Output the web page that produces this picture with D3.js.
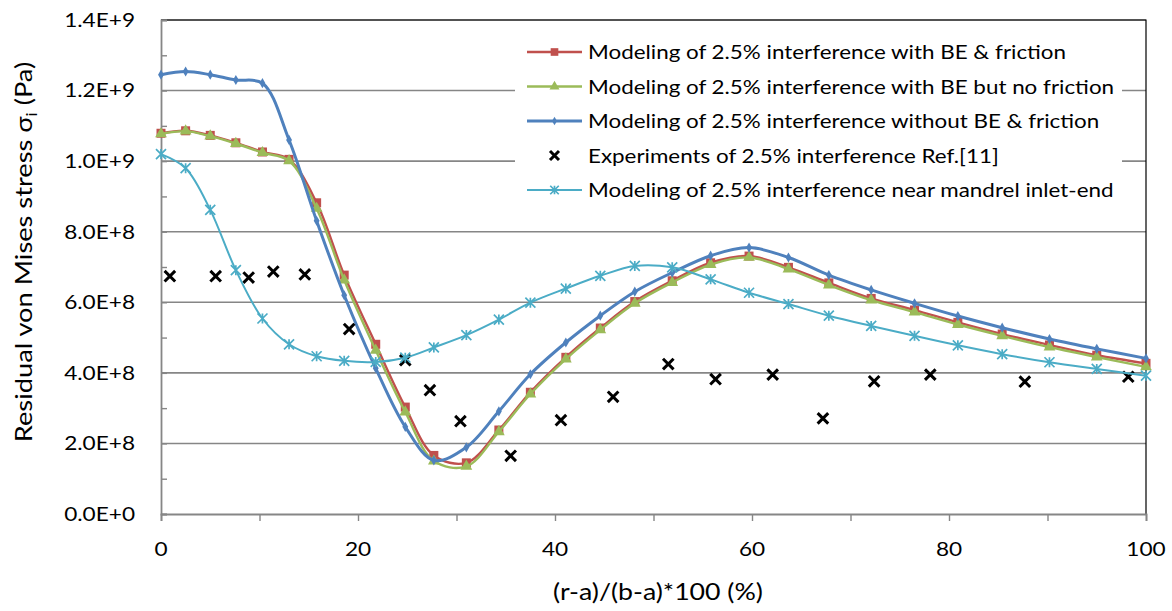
<!DOCTYPE html>
<html>
<head>
<meta charset="utf-8">
<title>Residual von Mises stress</title>
<script src="https://d3js.org/d3.v7.min.js"></script>
<style>
  body { margin: 0; background: #fff; }
  text { font-family: Lato, "Open Sans", sans-serif; fill: #000; }
</style>
</head>
<body>
<div id="vis"></div>
<script>
// positions along the radius, (r-a)/(b-a)*100
const xModel = [0, 2.5, 5.0, 7.6, 10.3, 13.0, 15.8, 18.6, 21.8, 24.8, 27.7, 31.0, 34.3, 37.5, 41.1,
                44.6, 48.1, 51.9, 55.8, 59.7, 63.7, 67.8, 72.1, 76.5, 80.9, 85.4, 90.2, 95.0, 100];

// stresses in units of 1E+9 Pa
const beFriction = [1.079, 1.086, 1.073, 1.052, 1.026, 1.005, 0.882, 0.677, 0.481, 0.303, 0.166, 0.145, 0.238, 0.345, 0.444,
                    0.527, 0.602, 0.661, 0.712, 0.731, 0.699, 0.655, 0.611, 0.578, 0.543, 0.510, 0.479, 0.450, 0.427];
const beNoFriction = [1.077, 1.085, 1.071, 1.050, 1.024, 1.001, 0.866, 0.663, 0.464, 0.289, 0.150, 0.135, 0.233, 0.340, 0.439,
                      0.522, 0.597, 0.656, 0.707, 0.727, 0.694, 0.649, 0.606, 0.572, 0.537, 0.505, 0.473, 0.445, 0.417];
const noBeFriction = [1.245, 1.254, 1.245, 1.230, 1.221, 1.060, 0.831, 0.620, 0.413, 0.247, 0.152, 0.189, 0.291, 0.396, 0.486,
                      0.562, 0.630, 0.684, 0.732, 0.755, 0.727, 0.677, 0.635, 0.597, 0.561, 0.528, 0.496, 0.468, 0.441];
const inletEnd = [1.020, 0.980, 0.862, 0.691, 0.554, 0.481, 0.447, 0.434, 0.431, 0.443, 0.472, 0.507, 0.551, 0.599, 0.639,
                  0.675, 0.703, 0.699, 0.665, 0.627, 0.595, 0.562, 0.533, 0.505, 0.478, 0.453, 0.430, 0.411, 0.392];

const xExp = [0.9, 5.55, 8.9, 11.4, 14.6, 19.1, 24.8, 27.3, 30.4, 35.5, 40.6, 45.9, 51.5, 56.3, 62.1, 67.2, 72.4, 78.1, 87.7, 98.2];
const yExp = [0.674, 0.674, 0.670, 0.687, 0.679, 0.524, 0.436, 0.351, 0.263, 0.165, 0.266, 0.332, 0.425, 0.382, 0.395,
              0.271, 0.376, 0.395, 0.375, 0.389];

const legendLabels = [
  "Modeling of 2.5% interference with BE & friction",
  "Modeling of 2.5% interference with BE but no friction",
  "Modeling of 2.5% interference without BE & friction",
  "Experiments of 2.5% interference Ref.[11]",
  "Modeling of 2.5% interference near mandrel inlet-end"
];
const yTicks = [0, 2e8, 4e8, 6e8, 8e8, 1e9, 1.2e9, 1.4e9];
const xTicks = [0, 20, 40, 60, 80, 100];

const width = 1172, height = 611;
const margin = {top: 20, right: 26, bottom: 97, left: 161};
const grey = "#868686";
const stretch = 1.16; // the original text is a bit wider than Lato

const svg = d3.select("#vis").append("svg")
  .attr("width", width)
  .attr("height", height);

const x = d3.scaleLinear().domain([0, 100]).range([margin.left, width - margin.right]);
const y = d3.scaleLinear().domain([0, 1.4e9]).range([height - margin.bottom, margin.top]);

// gridlines
svg.append("g")
  .selectAll("line")
  .data(yTicks.slice(1))
  .join("line")
  .attr("x1", x(0)).attr("x2", x(100))
  .attr("y1", d => y(d)).attr("y2", d => y(d))
  .attr("stroke", grey).attr("stroke-width", 1.6);

// top and right border of plot area
svg.append("path")
  .attr("d", `M${x(0)},${y(1.4e9)}H${x(100)}V${y(0)}`)
  .attr("fill", "none").attr("stroke", "#000").attr("stroke-width", 1.2);

// y axis: minor ticks pointing inside, labels
function sciFormat(v) {
  if (v === 0) return "0.0E+0";
  const e = Math.floor(Math.log10(v));
  return (v / Math.pow(10, e)).toFixed(1) + "E+" + e;
}
const yAxis = svg.append("g")
  .attr("transform", `translate(${x(0)},0)`)
  .call(d3.axisLeft(y).tickValues(d3.range(0, 1.45e9, 1e8)).tickSize(-6).tickFormat(""));
yAxis.select(".domain").attr("stroke", grey).attr("stroke-width", 1.8);
yAxis.selectAll(".tick line").attr("stroke", grey).attr("stroke-width", 1.4);

svg.append("g")
  .selectAll("text")
  .data(yTicks)
  .join("text")
  .attr("transform", d => `translate(135,${y(d)}) scale(${stretch},1)`)
  .attr("dy", "0.35em")
  .attr("text-anchor", "end")
  .style("font-size", "19.5px")
  .text(sciFormat);

// x axis
const xAxis = svg.append("g")
  .attr("transform", `translate(0,${y(0)})`)
  .call(d3.axisBottom(x).tickValues(d3.range(0, 101, 10)).tickSize(7).tickFormat(""));
xAxis.select(".domain").attr("stroke", grey).attr("stroke-width", 1.8);
xAxis.selectAll(".tick line").attr("stroke", grey).attr("stroke-width", 1.4);

svg.append("g")
  .selectAll("text")
  .data(xTicks)
  .join("text")
  .attr("transform", d => `translate(${x(d)},556) scale(${stretch},1)`)
  .attr("text-anchor", "middle")
  .style("font-size", "19.5px")
  .text(d => d);

// axis titles
svg.append("text")
  .attr("transform", `translate(658,600) scale(${stretch},1)`)
  .attr("text-anchor", "middle")
  .style("font-size", "23px")
  .text("(r-a)/(b-a)*100 (%)");

const yTitle = svg.append("text")
  .attr("transform", `translate(32,252) rotate(-90) scale(${stretch},1)`)
  .attr("text-anchor", "middle")
  .style("font-size", "23.5px");
yTitle.append("tspan").text("Residual von Mises stress σ");
yTitle.append("tspan").attr("dy", 5).style("font-size", "15px").text("i");
yTitle.append("tspan").attr("dy", -5).text(" (Pa)");

// series
const line = d3.line()
  .x(d => x(d[0]))
  .y(d => y(d[1] * 1e9))
  .curve(d3.curveCatmullRom.alpha(0.5));

const series = [
  {vals: beFriction, color: "#C0504D", w: 2.4, marker: "square"},
  {vals: beNoFriction, color: "#9BBB59", w: 2.4, marker: "triangle"},
  {vals: noBeFriction, color: "#4F81BD", w: 3, marker: "diamond"}
];

function drawMarker(g, kind, color, cx, cy, small) {
  const k = small ? 0.85 : 1;
  if (kind === "square") {
    g.append("rect").attr("x", cx - 4.5 * k).attr("y", cy - 4.5 * k)
      .attr("width", 9 * k).attr("height", 9 * k).attr("fill", color);
  } else if (kind === "triangle") {
    g.append("path").attr("transform", `translate(${cx},${cy})`)
      .attr("d", d3.symbol(d3.symbolTriangle, 60 * k * k)()).attr("fill", color);
  } else if (kind === "diamond") {
    g.append("path").attr("transform", `translate(${cx},${cy})`)
      .attr("d", d3.symbol(d3.symbolDiamond, 30 * k * k)()).attr("fill", color);
  } else if (kind === "star") {
    const r = 5 * k;
    g.append("path")
      .attr("d", `M${cx - r},${cy - r}L${cx + r},${cy + r}M${cx - r},${cy + r}L${cx + r},${cy - r}M${cx},${cy - r}V${cy + r}`)
      .attr("stroke", color).attr("stroke-width", 1.7).attr("fill", "none");
  } else if (kind === "cross") {
    const r = 5.3 * k;
    g.append("path")
      .attr("d", `M${cx - r},${cy - r}L${cx + r},${cy + r}M${cx - r},${cy + r}L${cx + r},${cy - r}`)
      .attr("stroke", color).attr("stroke-width", 3).attr("fill", "none");
  }
}

series.forEach(s => {
  const pts = xModel.map((xv, i) => [xv, s.vals[i]]);
  const g = svg.append("g");
  g.append("path").attr("d", line(pts))
    .attr("fill", "none").attr("stroke", s.color).attr("stroke-width", s.w);
  pts.forEach(p => drawMarker(g, s.marker, s.color, x(p[0]), y(p[1] * 1e9)));
});

// experiments
const gExp = svg.append("g");
xExp.forEach((xv, i) => drawMarker(gExp, "cross", "#000", x(xv), y(yExp[i] * 1e9)));

// inlet-end series on top
const inletPts = xModel.map((xv, i) => [xv, inletEnd[i]]);
const gIn = svg.append("g");
gIn.append("path").attr("d", line(inletPts))
  .attr("fill", "none").attr("stroke", "#4BACC6").attr("stroke-width", 2);
inletPts.forEach(p => drawMarker(gIn, "star", "#4BACC6", x(p[0]), y(p[1] * 1e9)));

// legend
const legend = svg.append("g");
legend.append("rect")
  .attr("x", 515).attr("y", 35).attr("width", 607).attr("height", 172)
  .attr("fill", "#fff");

const legendItems = [
  {color: "#C0504D", marker: "square", w: 2.4},
  {color: "#9BBB59", marker: "triangle", w: 2.4},
  {color: "#4F81BD", marker: "diamond", w: 3},
  {color: "#000", marker: "cross", w: 0},
  {color: "#4BACC6", marker: "star", w: 2}
];
legendItems.forEach((it, i) => {
  const cy = 52 + i * 34.5;
  if (it.w > 0) {
    legend.append("line")
      .attr("x1", 527).attr("x2", 582).attr("y1", cy).attr("y2", cy)
      .attr("stroke", it.color).attr("stroke-width", it.w);
  }
  drawMarker(legend, it.marker, it.color, 554.5, cy, true);
  legend.append("text")
    .attr("transform", `translate(588,${cy}) scale(1.12,1)`)
    .attr("dy", "0.35em")
    .style("font-size", "20px")
    .text(legendLabels[i]);
});
</script>
</body>
</html>
